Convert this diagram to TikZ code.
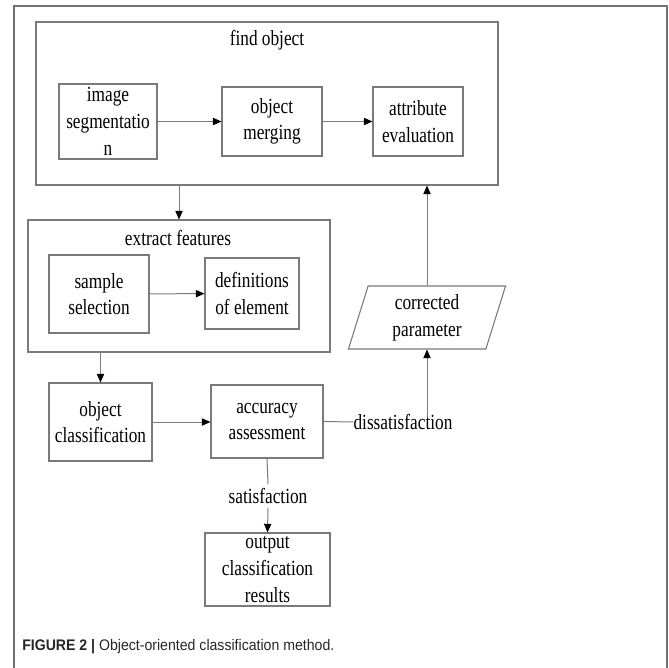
\documentclass[tikz,border=0pt]{standalone}
\usepackage{fontspec}
\setmainfont{Liberation Serif}[FakeStretch=0.8]
\newfontfamily\capfont{Liberation Sans}[FakeStretch=0.92]
\usetikzlibrary{shapes.geometric,arrows.meta}
\newdimen\pxu \pxu=0.75pt
\definecolor{linegray}{HTML}{7A7A7A}
\begin{document}
\begin{tikzpicture}[
            x=0.75pt, y=-0.75pt,
            every node/.style={font=\fontsize{16.2pt}{20pt}\selectfont, inner sep=0pt},
            box/.style={draw=linegray, line width=0.8pt, align=center},
            group/.style={draw=linegray, line width=0.8pt},
            arr/.style={draw=linegray, line width=0.75pt, -{Triangle[length=6.5pt,width=5.5pt,color=black]}},
            link/.style={draw=linegray, line width=0.75pt}
        ]
        \useasboundingbox (0,0) rectangle (669,668);
        % frame of the figure
        \draw[black!55, line width=1pt] (14,668) -- (14,6) -- (667,6) -- (667,668);

        % find object
        \node[group, minimum width=462\pxu, minimum height=163\pxu] (find) at (267,103.5) {};
        \node (findlbl) at (267,40) {find object};
        \node[box, minimum width=98\pxu, minimum height=75\pxu] (seg) at (108,121.5) {image\\segmentatio\\n};
        \node[box, minimum width=100\pxu, minimum height=69\pxu] (merge) at (272,121.5) {object\\merging};
        \node[box, minimum width=90\pxu, minimum height=69\pxu] (attr) at (418,121.5) {attribute\\evaluation};

        % extract features
        \node[group, minimum width=302\pxu, minimum height=132\pxu] (ext) at (179,286) {};
        \node (extlbl) at (178,238) {extract features};
        \node[box, minimum width=100\pxu, minimum height=78\pxu] (sample) at (99,294) {sample\\selection};
        \node[box, minimum width=94\pxu, minimum height=71\pxu] (defs) at (252,293.5) {definitions\\of element};

        % corrected parameter
        \node[box, trapezium, trapezium left angle=76, trapezium right angle=104,
            trapezium stretches=true, minimum width=158\pxu, minimum height=63\pxu]
            (param) at (427,317.5) {corrected\\parameter};

        % classification and assessment
        \node[box, minimum width=103\pxu, minimum height=78\pxu] (cls) at (100.5,422) {object\\classification};
        \node[box, minimum width=112\pxu, minimum height=73\pxu] (acc) at (267,421.5) {accuracy\\assessment};
        \node (dis) at (403,422) {dissatisfaction};
        \node (sat) at (268,496) {satisfaction};
        \node[box, minimum width=125\pxu, minimum height=73\pxu] (out) at (267.5,569.5) {output\\classification\\results};

        \node[anchor=west, text=black!85, font=\capfont\fontsize{11.5pt}{13pt}\selectfont] (caption) at (22,647)
            {\textbf{FIGURE 2 |} Object-oriented classification method.};

        % connectors
        \draw[arr] (seg) -- (merge);
        \draw[arr] (merge) -- (attr);
        \draw[arr] (ext.north |- find.south) -- (ext.north);
        \draw[arr] (sample) -- (defs);
        \draw[arr] (cls.north |- ext.south) -- (cls.north);
        \draw[arr] (cls.east) -- (acc.west |- cls.east);
        \draw[link] (acc.east) -- (dis.west);
        \draw[arr] ([yshift=-2pt]param.south |- dis.north) -- (param.south);
        \draw[arr] (param.north) -- (param.north |- find.south);
        \draw[link] (acc.south) -- ([yshift=3pt]sat.north);
        \draw[arr] ([yshift=-3pt]sat.south) -- (out.north);
    \end{tikzpicture}
\end{document}
